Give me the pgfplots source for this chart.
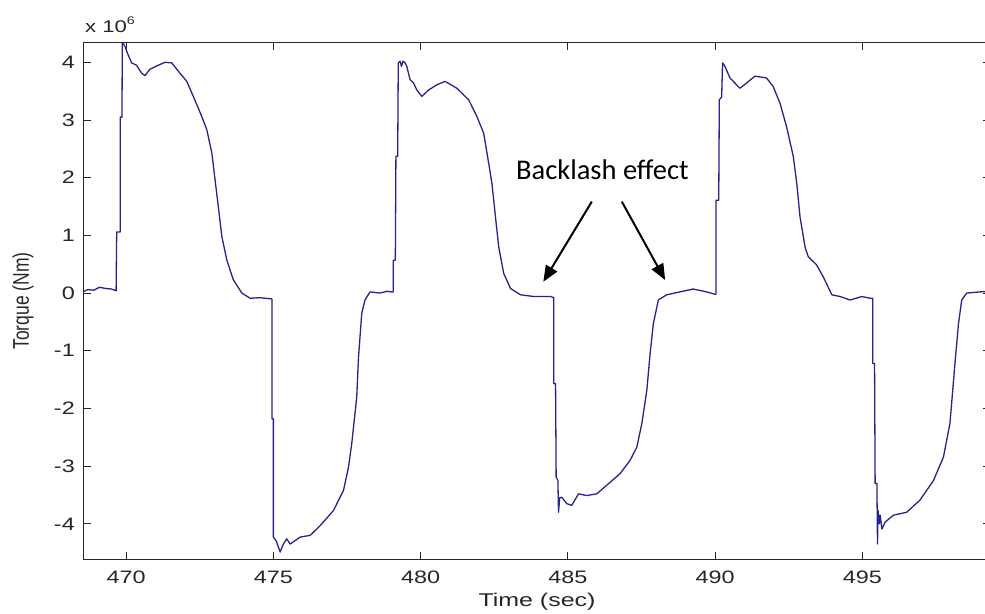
\documentclass[border=0pt]{standalone}
\usepackage{graphicx}
\usepackage{pgfplots}
\pgfplotsset{compat=1.18}
\usepackage{fontspec}
\setmainfont{Liberation Sans}
\newfontfamily\calibri{Carlito}
\usetikzlibrary{arrows.meta}
\definecolor{matblue}{rgb}{0.14,0.14,0.55}
\newcommand{\stretchtxt}[1]{\scalebox{1.3}[1]{#1}}

\pgfplotstableread{
x y
468.57 0.03
468.70 0.06
468.90 0.05
469.10 0.10
469.30 0.08
469.50 0.07
469.66 0.04
469.68 1.06
469.80 1.06
469.80 3.05
469.86 3.05
469.87 4.38
469.93 4.30
469.96 4.28
470.05 4.15
470.19 3.99
470.35 3.95
470.53 3.81
470.64 3.77
470.81 3.88
471.05 3.94
471.32 4.00
471.55 3.99
471.83 3.81
472.06 3.67
472.28 3.41
472.57 3.06
472.74 2.83
472.91 2.43
473.02 1.96
473.13 1.50
473.25 0.98
473.42 0.57
473.64 0.23
473.93 0.00
474.21 -0.09
474.55 -0.08
474.89 -0.10
474.95 -0.10
474.95 -2.18
475.00 -2.18
475.00 -4.23
475.10 -4.30
475.23 -4.49
475.34 -4.35
475.45 -4.26
475.57 -4.35
475.91 -4.23
476.25 -4.20
476.59 -4.03
477.04 -3.77
477.38 -3.42
477.55 -3.02
477.66 -2.61
477.77 -2.09
477.83 -1.80
477.89 -1.11
478.00 -0.35
478.11 -0.12
478.28 0.02
478.62 0.00
478.85 0.03
479.02 0.02
479.07 0.02
479.07 0.57
479.14 0.57
479.16 2.37
479.22 2.37
479.24 3.99
479.30 4.02
479.35 3.93
479.40 4.02
479.47 3.99
479.53 3.93
479.64 3.70
479.76 3.64
479.87 3.52
480.04 3.41
480.27 3.52
480.55 3.61
480.83 3.67
481.23 3.55
481.63 3.35
481.91 3.06
482.14 2.77
482.31 2.25
482.42 1.90
482.54 1.32
482.65 0.80
482.82 0.34
483.05 0.08
483.39 -0.03
483.84 -0.06
484.41 -0.06
484.52 -0.08
484.52 -1.57
484.58 -1.57
484.60 -3.19
484.66 -3.25
484.68 -3.80
484.72 -3.55
484.79 -3.54
484.96 -3.65
485.13 -3.68
485.36 -3.48
485.64 -3.51
485.98 -3.48
486.32 -3.33
486.77 -3.13
487.11 -2.90
487.34 -2.67
487.51 -2.26
487.68 -1.68
487.79 -1.05
487.90 -0.53
488.07 -0.12
488.35 -0.03
488.80 0.02
489.25 0.07
489.71 0.02
489.99 -0.02
490.03 -0.02
490.03 1.61
490.12 1.61
490.14 3.35
490.22 3.40
490.25 3.99
490.33 3.93
490.50 3.73
490.84 3.55
491.06 3.64
491.35 3.76
491.74 3.73
491.97 3.58
492.20 3.29
492.42 2.89
492.65 2.37
492.77 1.90
492.88 1.32
493.05 0.80
493.16 0.63
493.44 0.49
493.67 0.28
493.96 -0.03
494.24 -0.06
494.58 -0.12
494.98 -0.06
495.26 -0.09
495.35 -0.09
495.35 -1.22
495.41 -1.22
495.43 -3.30
495.49 -3.30
495.51 -4.35
495.53 -3.77
495.57 -4.00
495.60 -3.85
495.66 -4.09
495.77 -3.97
496.05 -3.85
496.50 -3.80
496.95 -3.59
497.41 -3.25
497.75 -2.84
497.97 -2.26
498.14 -1.22
498.26 -0.53
498.37 -0.12
498.54 0.00
498.99 0.02
499.33 0.03
}\torque

\begin{document}
\begin{tikzpicture}
\begin{axis}[
  scale only axis,
  width=906pt, height=516pt,
  xmin=468.57, xmax=499.33, ymin=-4.61, ymax=4.335,
  xtick={470,475,...,495}, ytick={-4,-3,...,4},
  tick align=inside, tick pos=both, major tick length=7pt,
  axis line style={line width=1pt, black!85},
  every tick/.style={line width=1pt, black!85},
  scaled y ticks=false,
  /pgf/number format/assume math mode=true,
  xticklabel={\stretchtxt{\pgfmathprintnumber{\tick}}},
  yticklabel={\stretchtxt{\pgfmathprintnumber{\tick}}},
  tick label style={font=\fontsize{18}{18}\selectfont, text=black!85},
  xticklabel style={anchor=base, yshift=-24pt, inner sep=0pt},
  yticklabel style={anchor=east, xshift=-9pt, inner sep=0pt},
  xlabel={\scalebox{1.35}[1]{Time (sec)}},
  xlabel style={at={(axis description cs:0.5,-0.0924)}, anchor=base, inner sep=0pt, font=\fontsize{18.5}{18.5}\selectfont, text=black!85},
  ylabel={\scalebox{1}[1.3]{Torque (Nm)}},
  ylabel style={at={(axis description cs:-0.0673,0.5)}, anchor=center, rotate=0, inner sep=0pt, font=\fontsize{17.5}{17.5}\selectfont, text=black!85},
]
\addplot[matblue, line width=1.3pt, line join=round] table[x=x, y=y] {\torque};
\node[font=\calibri\fontsize{28.5}{30}\selectfont, anchor=base, inner sep=0pt] at (axis cs:486.17,1.962) {Backlash effect};
\draw[line width=2pt, -{Triangle[length=16pt, width=13pt]}] (axis cs:485.81,1.585) -- (axis cs:484.165,0.196);
\draw[line width=2pt, -{Triangle[length=16pt, width=13pt]}] (axis cs:486.83,1.585) -- (axis cs:488.30,0.226);
\coordinate (ll) at (rel axis cs:0,0);
\coordinate (ur) at (rel axis cs:1,1);
\coordinate (ul) at (rel axis cs:0,1);
\end{axis}
\node[anchor=base west, inner sep=0pt, font=\fontsize{17}{17}\selectfont, text=black!85] at ([shift={(1pt,10pt)}]ul) {\scalebox{1.3}[1]{x 10\raisebox{8pt}{\fontsize{11}{11}\selectfont 6}}};
\pgfresetboundingbox
\path ([shift={(-84pt,-54pt)}]ll) rectangle ([shift={(-5pt,43pt)}]ur);
\end{tikzpicture}
\end{document}
